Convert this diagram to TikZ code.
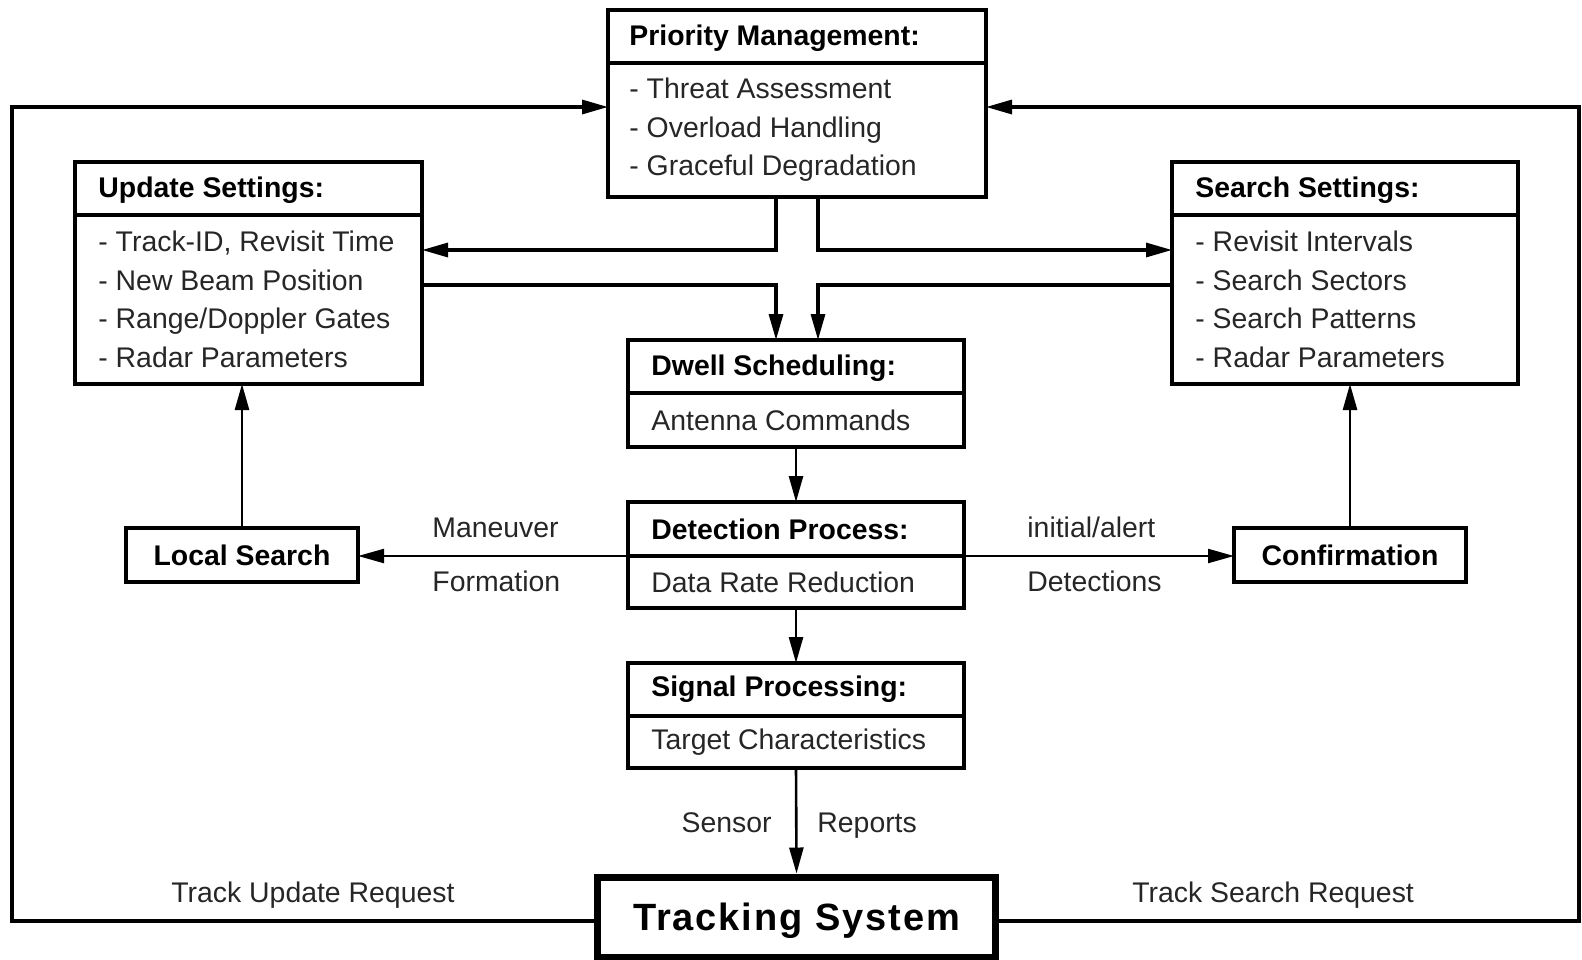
\documentclass[tikz,border=0pt]{standalone}
\usepackage{fontspec}
\setmainfont{Liberation Sans}
\usetikzlibrary{arrows.meta}
\begin{document}
\begin{tikzpicture}[x=0.5pt,y=-0.5pt,
  frame/.style={draw, line width=2pt, anchor=north west, inner sep=0pt, outer sep=0pt},
  hdtext/.style={anchor=west, inner sep=0pt, font=\fontsize{14.2}{19.25}\selectfont\bfseries},
  bodytext/.style={anchor=west, inner sep=0pt, align=left, text=black!85,
    font=\fontsize{14.2}{19.25}\selectfont},
  lbl/.style={inner sep=0pt, text height=10.2pt, text depth=3pt, text=black!85,
    font=\fontsize{14.2}{17}\selectfont},
  loopline/.style={line width=1.6pt},
  link/.style={line width=1.3pt},
  thinlink/.style={line width=1.1pt},
  tip/.style={-{Triangle[length=13pt,width=7pt]}},
]
\useasboundingbox (0,0) rectangle (1582,959);

% Priority management
\node[frame, minimum width=189pt, minimum height=26.5pt] (pmH) at (608,10) {};
\node[frame, minimum width=189pt, minimum height=67pt] (pmB) at (608,63) {};
\node[hdtext] (pmHt) at ([xshift=10.5pt,yshift=-0.8pt]pmH.west) {Priority Management:};
\node[bodytext] (pmBt) at ([xshift=10.5pt]pmB.west)
  {- Threat Assessment\\- Overload Handling\\- Graceful Degradation};

% Update settings
\node[frame, minimum width=173.5pt, minimum height=26.5pt] (usH) at (75,162) {};
\node[frame, minimum width=173.5pt, minimum height=84.5pt] (usB) at (75,215) {};
\node[hdtext] (usHt) at ([xshift=11.5pt,yshift=-0.8pt]usH.west) {Update Settings:};
\node[bodytext] (usBt) at ([xshift=11.5pt]usB.west)
  {- Track-ID, Revisit Time\\- New Beam Position\\- Range/Doppler Gates\\- Radar Parameters};

% Search settings
\node[frame, minimum width=173pt, minimum height=26.5pt] (ssH) at (1172,162) {};
\node[frame, minimum width=173pt, minimum height=84.5pt] (ssB) at (1172,215) {};
\node[hdtext] (ssHt) at ([xshift=11.5pt,yshift=-0.8pt]ssH.west) {Search Settings:};
\node[bodytext] (ssBt) at ([xshift=11.5pt]ssB.west)
  {- Revisit Intervals\\- Search Sectors\\- Search Patterns\\- Radar Parameters};

% Dwell scheduling
\node[frame, minimum width=168pt, minimum height=26.5pt] (dsH) at (628,340) {};
\node[frame, minimum width=168pt, minimum height=27pt] (dsB) at (628,393) {};
\node[hdtext] (dsHt) at ([xshift=11.5pt,yshift=-0.8pt]dsH.west) {Dwell Scheduling:};
\node[bodytext] (dsBt) at ([xshift=11.5pt]dsB.west) {Antenna Commands};

% Detection process
\node[frame, minimum width=168pt, minimum height=27pt] (dtH) at (628,502) {};
\node[frame, minimum width=168pt, minimum height=26pt] (dtB) at (628,556) {};
\node[hdtext] (dtHt) at ([xshift=11.5pt]dtH.west) {Detection Process:};
\node[bodytext] (dtBt) at ([xshift=11.5pt]dtB.west) {Data Rate Reduction};

% Signal processing
\node[frame, minimum width=168pt, minimum height=26.5pt] (spH) at (628,663) {};
\node[frame, minimum width=168pt, minimum height=26pt] (spB) at (628,716) {};
\node[hdtext] (spHt) at ([xshift=11.5pt]spH.west) {Signal Processing:};
\node[bodytext] (spBt) at ([xshift=11.5pt]spB.west) {Target Characteristics};

% Local search and confirmation
\node[frame, minimum width=116pt, minimum height=27pt,
  font=\fontsize{14.2}{17}\selectfont\bfseries] (ls) at (126,528) {Local Search};
\node[frame, minimum width=116pt, minimum height=27pt,
  font=\fontsize{14.2}{17}\selectfont\bfseries] (cf) at (1234,528) {Confirmation};

% Tracking system
\node[draw, line width=3.5pt, inner sep=0pt, minimum width=199pt, minimum height=40pt,
  text depth=0pt,
  font=\fontsize{19}{22}\selectfont\bfseries\addfontfeature{LetterSpace=5}]
  (ts) at (796.5,917) {Tracking System};

% Outer request loops
\coordinate (cL) at (12,107);
\coordinate (cR) at (1579,107);
\draw[loopline,tip] ([yshift=-2pt]ts.west) -| (cL) -- (cL -| pmB.west);
\draw[loopline,tip] ([yshift=-2pt]ts.east) -| (cR) -- (cR -| pmB.east);

% Priority management to settings, settings to dwell scheduling
\coordinate (jUa) at (776,250);
\coordinate (jSa) at (818,250);
\coordinate (jUb) at (776,285);
\coordinate (jSb) at (818,285);
\draw[loopline,tip] (jUa |- pmB.south) -- (jUa) -- (jUa -| usB.east);
\draw[loopline,tip] (jSa |- pmB.south) -- (jSa) -- (jSa -| ssB.west);
\draw[loopline,tip] (jUb -| usB.east) -- (jUb) -- (jUb |- dsH.north);
\draw[loopline,tip] (jSb -| ssB.west) -- (jSb) -- (jSb |- dsH.north);

% Processing chain
\draw[link,tip] (dsB.south) -- (dtH.north);
\draw[link,tip] (dtB.south) -- (spH.north);
\draw[link,tip] (spB.south) -- (ts.north);

% Detection outputs
\draw[thinlink,tip] (dtH.south west) -- (ls.east |- dtH.south west);
\draw[thinlink,tip] (dtH.south east) -- (cf.west |- dtH.south east);
\draw[link,tip] (ls.north) -- (ls.north |- usB.south);
\draw[link,tip] (cf.north) -- (cf.north |- ssB.south);

% Connector labels
\node[lbl, anchor=west] (lMan) at (432,530) {Maneuver};
\node[lbl, anchor=west] (lFor) at (432,584) {Formation};
\node[lbl, anchor=west] (lIni) at (1027,530) {initial/alert};
\node[lbl, anchor=west] (lDet) at (1027,584) {Detections};
\node[lbl, anchor=east] (lSen) at (772,825) {Sensor};
\node[lbl, anchor=west] (lRep) at (817,825) {Reports};
\node[lbl, anchor=west] (lTU) at (171,895) {Track Update Request};
\node[lbl, anchor=west] (lTS) at (1132,895) {Track Search Request};
\end{tikzpicture}
\end{document}
